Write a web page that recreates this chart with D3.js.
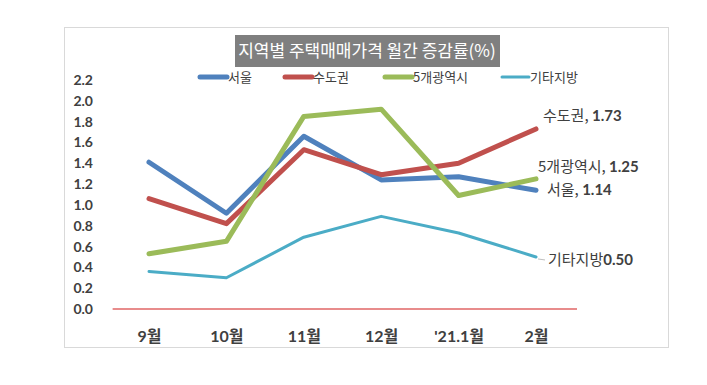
<!DOCTYPE html>
<html>
<head>
<meta charset="utf-8">
<script src="https://cdn.jsdelivr.net/npm/d3@7"></script>
<style>
  body { margin: 0; background: #fff; }
  svg { display: block; }
  .axis text { font-family: Lato, "Noto Sans CJK KR", sans-serif; font-weight: bold; fill: #404040; }
</style>
</head>
<body>
<svg width="707" height="385"></svg>
<script>
var months = ['9월', '10월', '11월', '12월', "'21.1월", '2월'];
var seoul   = [1.41, 0.92, 1.66, 1.24, 1.27, 1.14];
var capital = [1.06, 0.82, 1.53, 1.29, 1.40, 1.73];
var metro5  = [0.53, 0.65, 1.85, 1.92, 1.09, 1.25];
var others  = [0.36, 0.30, 0.69, 0.89, 0.73, 0.50];
var yTicks  = [0, 0.2, 0.4, 0.6, 0.8, 1.0, 1.2, 1.4, 1.6, 1.8, 2.0, 2.2];

var series = [
    {name: '서울', values: seoul, color: '#4f81bd', width: 5, label: '서울, ', num: '1.14', dx: 11, dy: 0},
    {name: '수도권', values: capital, color: '#c0504d', width: 5, label: '수도권, ', num: '1.73', dx: 7, dy: -13},
    {name: '5개광역시', values: metro5, color: '#9bbb59', width: 5, label: '5개광역시, ', num: '1.25', dx: 2, dy: -12},
    {name: '기타지방', values: others, color: '#4bacc6', width: 3, label: '기타지방', num: '0.50', dx: 12, dy: 3}
];

var svg = d3.select('svg');

// outer frame
svg.append('rect')
    .attr('x', 64.5).attr('y', 27.5)
    .attr('width', 604).attr('height', 320)
    .attr('fill', '#fff').attr('stroke', '#d9d9d9');

var x = d3.scalePoint().domain(months).range([149, 536]);
var y = d3.scaleLinear().domain([0, 2.2]).range([309, 80]);

// title
svg.append('rect')
    .attr('x', 235).attr('y', 35).attr('width', 265).attr('height', 32)
    .attr('fill', '#7f7f7f');
svg.append('text')
    .attr('x', 367).attr('y', 57)
    .attr('text-anchor', 'middle')
    .attr('font-family', '"Noto Sans CJK KR", sans-serif')
    .attr('font-size', 17)
    .attr('fill', '#fff')
    .text('지역별 주택매매가격 월간 증감률(%)');

// legend
var legendX = [200, 285, 385, 502];
var legend = svg.selectAll('.legend')
    .data(series).enter().append('g')
    .attr('class', 'legend')
    .attr('transform', function(d, i) { return 'translate(' + legendX[i] + ',77)'; });
legend.append('line')
    .attr('x1', 0).attr('x2', 27)
    .attr('stroke', function(d) { return d.color; })
    .attr('stroke-width', function(d) { return d.width; })
    .attr('stroke-linecap', 'round');
legend.append('text')
    .attr('x', 28).attr('y', 5)
    .attr('font-family', '"Noto Sans CJK KR", sans-serif')
    .attr('font-size', 13)
    .attr('fill', '#404040')
    .text(function(d) { return d.name; });

// y axis
var yAxis = svg.append('g')
    .attr('class', 'axis y')
    .attr('transform', 'translate(93,0)')
    .call(d3.axisLeft(y).tickValues(yTicks).tickSize(0).tickPadding(0).tickFormat(d3.format('.1f')));
yAxis.select('.domain').remove();
yAxis.selectAll('text').attr('font-size', 14);

// x axis
var xAxis = svg.append('g')
    .attr('class', 'axis x')
    .attr('transform', 'translate(0,' + y(0) + ')')
    .call(d3.axisBottom(x).tickSize(0).tickPadding(22));
xAxis.select('.domain').remove();
xAxis.selectAll('text').attr('font-size', 16);

// zero line
svg.append('line')
    .attr('x1', x(months[0]) - x.step() * 0.47)
    .attr('x2', x(months[months.length - 1]) + x.step() * 0.53)
    .attr('y1', y(0)).attr('y2', y(0))
    .attr('stroke', '#e06666').attr('stroke-width', 1.5);

// lines
var line = d3.line()
    .x(function(d, i) { return x(months[i]); })
    .y(function(d) { return y(d); });

svg.selectAll('.series')
    .data(series).enter().append('path')
    .attr('class', 'series')
    .attr('d', function(d) { return line(d.values); })
    .attr('fill', 'none')
    .attr('stroke', function(d) { return d.color; })
    .attr('stroke-width', function(d) { return d.width; })
    .attr('stroke-linejoin', 'round')
    .attr('stroke-linecap', 'round');

// leader line for 기타지방
var lastX = x(months[months.length - 1]);
svg.append('line')
    .attr('x1', lastX + 2).attr('x2', lastX + 9)
    .attr('y1', y(others[5]) + 2).attr('y2', y(others[5]) + 3)
    .attr('stroke', '#bfbfbf').attr('stroke-width', 1);

// end labels
var labels = svg.selectAll('.endlabel')
    .data(series).enter().append('text')
    .attr('class', 'endlabel')
    .attr('x', function(d) { return lastX + d.dx; })
    .attr('y', function(d) { return y(d.values[5]) + d.dy + 5; })
    .attr('font-size', 15)
    .attr('fill', '#404040');
labels.append('tspan')
    .attr('font-family', '"Noto Sans CJK KR", sans-serif')
    .text(function(d) { return d.label; });
labels.append('tspan')
    .attr('font-family', 'Lato, sans-serif')
    .attr('font-weight', 'bold')
    .text(function(d) { return d.num; });
</script>
</body>
</html>
